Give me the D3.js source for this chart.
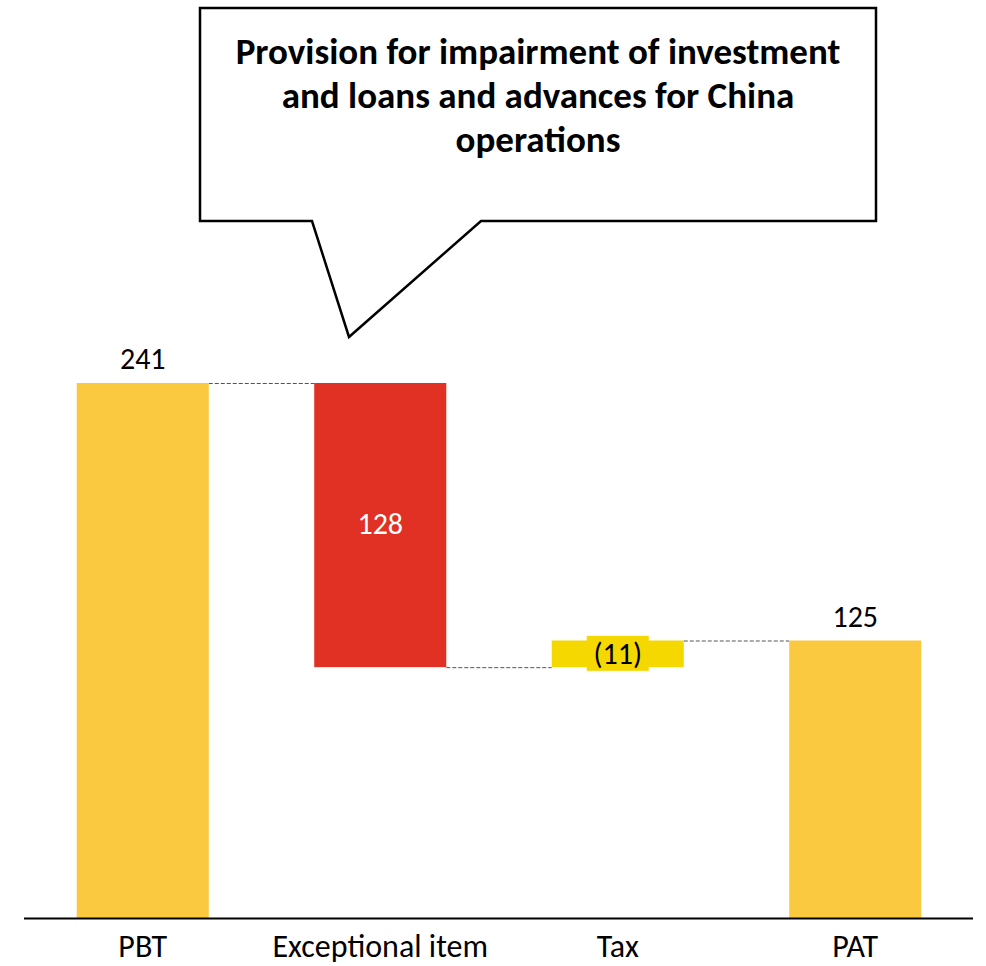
<!DOCTYPE html>
<html>
<head>
<meta charset="utf-8">
<script src="https://cdn.jsdelivr.net/npm/d3@7"></script>
<style>
  body { margin: 0; background: #fff; }
  text { font-family: Carlito, Calibri, Lato, sans-serif; }
</style>
</head>
<body>
<svg id="chart" width="986" height="966"></svg>
<script>
// waterfall data
var categories = ["PBT", "Exceptional item", "Tax", "PAT"];
var deltas = [241, -128, 12, 125];       // last one is a total
var isTotal = [true, false, false, true];
var valueLabels = ["241", "128", "(11)", "125"];
var barColors = ["#FBC93F", "#E03124", "#F5D800", "#FBC93F"];
var calloutLines = ["Provision for impairment of investment",
                    "and loans and advances for China",
                    "operations"];

var svg = d3.select("#chart");

var xScale = d3.scaleBand()
  .domain(categories)
  .range([24, 974])
  .paddingInner(0.444)
  .paddingOuter(0.222);

var yScale = d3.scaleLinear()
  .domain([0, 241])
  .range([918, 383]);

// build running totals
var bars = [];
var running = 0;
categories.forEach(function(c, i) {
  var start, end;
  if (isTotal[i]) { start = 0; end = deltas[i]; running = end; }
  else { start = running; end = running + deltas[i]; running = end; }
  bars.push({cat: c, start: start, end: end, label: valueLabels[i], color: barColors[i], total: isTotal[i]});
});

// connectors
for (var i = 0; i < bars.length - 1; i++) {
  var lvl = bars[i].end;
  svg.append("line")
    .attr("x1", xScale(bars[i].cat) + xScale.bandwidth())
    .attr("x2", xScale(bars[i + 1].cat))
    .attr("y1", yScale(lvl) + 0.5)
    .attr("y2", yScale(lvl) + 0.5)
    .attr("stroke", "#555")
    .attr("stroke-width", 1)
    .attr("stroke-dasharray", "4,2");
}

// bars
svg.selectAll("rect.bar")
  .data(bars)
  .enter().append("rect")
  .attr("class", "bar")
  .attr("x", function(d) { return xScale(d.cat); })
  .attr("width", xScale.bandwidth())
  .attr("y", function(d) { return yScale(Math.max(d.start, d.end)); })
  .attr("height", function(d) { return Math.abs(yScale(d.start) - yScale(d.end)); })
  .attr("fill", function(d) { return d.color; });

// x axis line
svg.append("line")
  .attr("x1", 24).attr("x2", 973)
  .attr("y1", 918.5).attr("y2", 918.5)
  .attr("stroke", "#000")
  .attr("stroke-width", 2);

// category labels
svg.selectAll("text.cat")
  .data(categories)
  .enter().append("text")
  .attr("class", "cat")
  .attr("x", function(d) { return xScale(d) + xScale.bandwidth() / 2; })
  .attr("y", 957)
  .attr("text-anchor", "middle")
  .attr("font-size", 32)
  .attr("fill", "#000")
  .text(function(d) { return d; });

// value labels
bars.forEach(function(d) {
  var cx = xScale(d.cat) + xScale.bandwidth() / 2;
  if (d.total) {
    svg.append("text")
      .attr("x", cx).attr("y", yScale(d.end) - 14)
      .attr("text-anchor", "middle")
      .attr("font-size", 30)
      .attr("fill", "#000")
      .text(d.label);
  } else if (d.end < d.start) {
    // big negative step, white label inside
    svg.append("text")
      .attr("x", cx).attr("y", yScale(d.start) + 151)
      .attr("text-anchor", "middle")
      .attr("font-size", 30)
      .attr("fill", "#fff")
      .text(d.label);
  } else {
    // small step: label on a yellow patch
    var mid = yScale((d.start + d.end) / 2);
    svg.append("rect")
      .attr("x", cx - 31).attr("y", mid - 18)
      .attr("width", 62).attr("height", 35)
      .attr("fill", d.color);
    svg.append("text")
      .attr("x", cx).attr("y", mid + 10)
      .attr("text-anchor", "middle")
      .attr("font-size", 30)
      .attr("fill", "#000")
      .text(d.label);
  }
});

// callout box with tail
var callout = d3.path();
callout.moveTo(200, 8);
callout.lineTo(876, 8);
callout.lineTo(876, 221);
callout.lineTo(481, 221);
callout.lineTo(349, 337);
callout.lineTo(312, 221);
callout.lineTo(200, 221);
callout.closePath();
svg.append("path")
  .attr("d", callout.toString())
  .attr("fill", "#fff")
  .attr("stroke", "#000")
  .attr("stroke-width", 2.5)
  .attr("stroke-linejoin", "miter");

svg.selectAll("text.callout")
  .data(calloutLines)
  .enter().append("text")
  .attr("class", "callout")
  .attr("x", 538)
  .attr("y", function(d, i) { return 64 + i * 44; })
  .attr("text-anchor", "middle")
  .attr("font-size", 37)
  .attr("font-weight", "bold")
  .attr("fill", "#000")
  .text(function(d) { return d; });
</script>
</body>
</html>
